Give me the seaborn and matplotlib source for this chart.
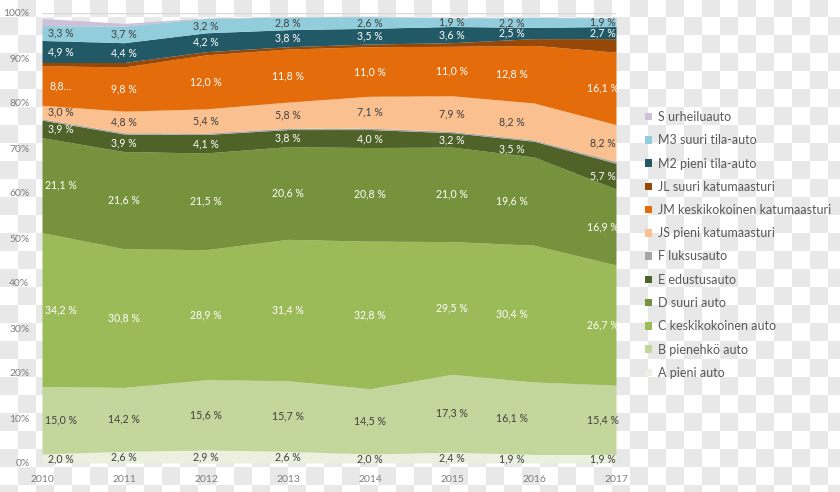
import numpy as np
import matplotlib
matplotlib.use("Agg")
import matplotlib.pyplot as plt
import seaborn as sns
from matplotlib.patches import Patch

# ---------------- data ----------------
years = [2010, 2011, 2012, 2013, 2014, 2015, 2016, 2017]
A  = [2.0, 2.6, 2.9, 2.6, 2.0, 2.4, 1.9, 1.9]
B  = [15.0, 14.2, 15.6, 15.7, 14.5, 17.3, 16.1, 15.4]
C  = [34.2, 30.8, 28.9, 31.4, 32.8, 29.5, 30.4, 26.7]
D  = [21.1, 21.6, 21.5, 20.6, 20.8, 21.0, 19.6, 16.9]
E  = [3.9, 3.9, 4.1, 3.8, 4.0, 3.2, 3.5, 5.7]
F  = [0.3, 0.3, 0.3, 0.3, 0.3, 0.3, 0.3, 0.4]
JS = [3.0, 4.8, 5.4, 5.8, 7.1, 7.9, 8.2, 8.2]
JM = [8.8, 9.8, 12.0, 11.8, 11.0, 11.0, 12.8, 16.1]
JL = [0.7, 1.0, 0.7, 0.5, 0.6, 0.8, 1.5, 3.0]
M2 = [4.9, 4.4, 4.2, 3.8, 3.5, 3.6, 2.5, 2.7]
M3 = [3.3, 3.7, 3.2, 2.8, 2.6, 1.9, 2.2, 1.9]
S  = [1.6, 0.6, 0.1, 0.1, 0.1, 0.1, 0.1, 0.1]

series_names = ["A pieni auto", "B pienehkö auto", "C keskikokoinen auto", "D suuri auto",
                "E edustusauto", "F luksusauto", "JS pieni katumaasturi",
                "JM keskikokoinen katumaasturi", "JL suuri katumaasturi",
                "M2 pieni tila-auto", "M3 suuri tila-auto", "S urheiluauto"]
series_values = [A, B, C, D, E, F, JS, JM, JL, M2, M3, S]
y_ticks = [0, 10, 20, 30, 40, 50, 60, 70, 80, 90, 100]
y_tick_labels = ["0%", "10%", "20%", "30%", "40%", "50%", "60%", "70%", "80%", "90%", "100%"]
jm_2010_label = "8,8..."

# ---------------- style ----------------
colors = ["#ebf1de", "#c3d69b", "#9bbb59", "#76923c", "#4f6228", "#a6a6a6",
          "#fac090", "#e46c0a", "#974706", "#215967", "#92cddc", "#ccc0da"]
palette = sns.color_palette(colors)
label_colors = {0: "#404040", 1: "#404040", 2: "white", 3: "white", 4: "white",
                6: "#404040", 7: "white", 9: "white", 10: "#404040"}
x_px_offsets = [19, 0, 0, 0, 0, 0, -22, -13]

sns.set_style("white")
plt.rcParams["font.family"] = ["Lato", "DejaVu Sans"]

W, H = 840, 492
fig = plt.figure(figsize=(W / 100, H / 100), dpi=100)

# checkerboard background
yy, xx = np.mgrid[0:H, 0:W]
chk = ((((yy + 1) // 18) + (xx // 18)) % 2).astype(bool)
img = np.ones((H, W, 3))
img[chk] = np.array([232, 232, 232]) / 255.0
bg = fig.add_axes([0, 0, 1, 1], zorder=-5)
bg.imshow(img, aspect="auto", interpolation="nearest")
bg.axis("off")

ax = fig.add_axes([42 / W, 1 - 463 / H, (616 - 42) / W, (463 - 13) / H], zorder=1)
ax.set_facecolor("none")

polys = ax.stackplot(years, *series_values, colors=palette, linewidth=0, zorder=2)
ax.axhline(100, color="#d9d9d9", lw=1.0, zorder=1)

ax.set_xlim(2010, 2017)
ax.set_ylim(0, 100)
ax.set_yticks(y_ticks)
ax.set_yticklabels(y_tick_labels)
ax.set_xticks(years)
ax.set_xticklabels([str(y) for y in years])
ax.tick_params(axis="both", length=0, labelsize=7.5, labelcolor="#7f7f7f")
ax.tick_params(axis="y", pad=9)
ax.tick_params(axis="x", pad=9)
for s in ax.spines.values():
    s.set_visible(False)
ax.grid(False)

# data labels
cum = np.zeros(len(years))
for i, vals in enumerate(series_values):
    vals = np.array(vals)
    if i in label_colors:
        for j, yr in enumerate(years):
            txt = f"{vals[j]:.1f}".replace(".", ",") + " %"
            if i == 7 and j == 0:
                txt = jm_2010_label
            ax.annotate(txt, xy=(yr, cum[j] + vals[j] / 2), xytext=(x_px_offsets[j] * 0.72, 0),
                        textcoords="offset points", ha="center", va="center",
                        fontsize=7.6, color=label_colors[i], zorder=5, annotation_clip=False)
    cum += vals

# legend
handles = [Patch(facecolor=palette[i], edgecolor="none") for i in range(len(series_names))][::-1]
labels = series_names[::-1]
leg = fig.legend(handles, labels, loc="upper left", bbox_to_anchor=(645 / W, 1 - 111 / H),
                 frameon=False, fontsize=9, handlelength=0.55, handleheight=0.55,
                 handletextpad=0.45, labelspacing=0.9, borderpad=0, borderaxespad=0)
for t in leg.get_texts():
    t.set_color("#595959")

fig.savefig("out.png", dpi=100)
